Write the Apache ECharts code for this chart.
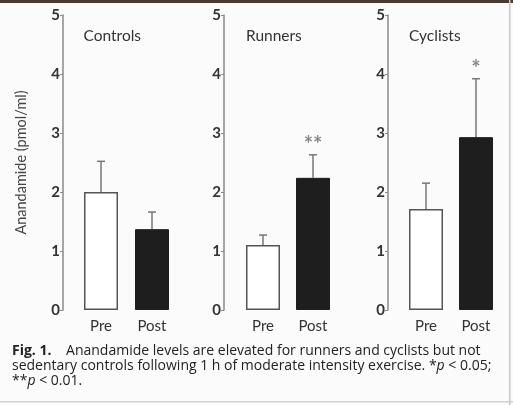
<!DOCTYPE html>
<html>
<head>
<meta charset="utf-8">
<script src="https://cdn.jsdelivr.net/npm/echarts@6/dist/echarts.min.js"></script>
<style>
  html, body { margin: 0; padding: 0; background: #fbfbfb; }
  #chart { width: 513px; height: 405px; }
</style>
</head>
<body>
<div id="chart"></div>
<script>
var groups = ["Controls", "Runners", "Cyclists"];
var phases = ["Pre", "Post"];
var preMeans = [2.0, 1.1, 1.71];
var postMeans = [1.37, 2.24, 2.93];
var preSem = [0.52, 0.17, 0.44];
var postSem = [0.29, 0.39, 0.99];
var marks = ["", "**", "*"];
var yTicks = [0, 1, 2, 3, 4, 5];

var FONT = "Lato";
var CAPTION_FONT = "Open Sans";
var chart = echarts.init(document.getElementById("chart"));

// panel placement: band start, band width, offset of y axis line to the left
var panels = [
	{ left: 75.5, width: 102, offset: 12.5 },
	{ left: 238, width: 100, offset: 14 },
	{ left: 401, width: 100, offset: 13 },
];

var grids = [];
var xAxes = [];
var yAxes = [];
var series = [];
var titles = [];

groups.forEach(function (g, i) {
	var p = panels[i];
	grids.push({ left: p.left, width: p.width, top: 15, bottom: 95 });
	xAxes.push({
		type: "category",
		gridIndex: i,
		data: phases,
		axisLine: { show: false },
		axisTick: { show: false },
		axisLabel: { margin: 9, color: "#333", fontSize: 15, fontFamily: FONT },
	});
	yAxes.push({
		type: "value",
		gridIndex: i,
		min: 0,
		max: 5,
		interval: 1,
		offset: p.offset,
		name: i === 0 ? "Anandamide (pmol/ml)" : "",
		nameLocation: "middle",
		nameGap: 47 - p.offset,
		nameTextStyle: { color: "#444", fontSize: 14.5, fontFamily: FONT },
		axisLine: { show: true, lineStyle: { color: "#8a8a8a", width: 1.5 } },
		axisTick: { show: true, inside: false, length: 3, lineStyle: { color: "#8a8a8a" } },
		axisLabel: {
			margin: 3,
			color: "#333",
			fontSize: 15,
			fontWeight: "bold",
			fontFamily: FONT,
			formatter: function (v) { return yTicks.indexOf(v) >= 0 ? String(v) : ""; },
		},
		splitLine: { show: false },
	});
	titles.push({
		text: g,
		left: p.left + 3,
		top: 23,
		textStyle: { color: "#333", fontSize: 15.5, fontWeight: "normal", fontFamily: FONT },
	});

	var means = [preMeans[i], postMeans[i]];
	var sems = [preSem[i], postSem[i]];

	series.push({
		type: "bar",
		xAxisIndex: i,
		yAxisIndex: i,
		barWidth: 34,
		data: [
			{ value: means[0], itemStyle: { color: "#ffffff", borderColor: "#555", borderWidth: 1.5 } },
			{ value: means[1], itemStyle: { color: "#1e1e1e", borderColor: "#1e1e1e", borderWidth: 1 } },
		],
		z: 2,
	});

	series.push({
		type: "custom",
		xAxisIndex: i,
		yAxisIndex: i,
		data: [
			[0, means[0], means[0] + sems[0], ""],
			[1, means[1], means[1] + sems[1], marks[i]],
		],
		renderItem: function (params, api) {
			var base = api.coord([api.value(0), api.value(1)]);
			var top = api.coord([api.value(0), api.value(2)]);
			var mark = api.value(3);
			var children = [
				{
					type: "line",
					shape: { x1: base[0], y1: base[1], x2: top[0], y2: top[1] },
					style: { stroke: "#777", lineWidth: 1.5 },
				},
				{
					type: "line",
					shape: { x1: top[0] - 4, y1: top[1], x2: top[0] + 4, y2: top[1] },
					style: { stroke: "#777", lineWidth: 1.5 },
				},
			];
			if (mark) {
				children.push({
					type: "text",
					style: {
						text: mark,
						x: top[0],
						y: top[1] + 1,
						align: "center",
						verticalAlign: "bottom",
						fill: "#888",
						font: "bold 22px " + FONT,
					},
				});
			}
			return { type: "group", children: children };
		},
		z: 1,
	});
});

var option = {
	backgroundColor: "#fbfbfb",
	animation: false,
	title: titles,
	grid: grids,
	xAxis: xAxes,
	yAxis: yAxes,
	series: series,
	graphic: [
		{ type: "rect", shape: { x: 0, y: 0, width: 513, height: 3 }, style: { fill: "#4a3a32" } },
		{ type: "rect", shape: { x: 509, y: 0, width: 1.5, height: 405 }, style: { fill: "#c8c8c8" } },
		{ type: "rect", shape: { x: 0, y: 401, width: 513, height: 1.5 }, style: { fill: "#d0d0d0" } },
		{
			type: "text",
			left: 12,
			top: 344,
			style: {
				text: "{b|Fig. 1.}    Anandamide levels are elevated for runners and cyclists but not\n" +
					"sedentary controls following 1 h of moderate intensity exercise. *{i|p} < 0.05;\n" +
					"**{i|p} < 0.01.",
				font: "14px " + CAPTION_FONT,
				fill: "#222",
				lineHeight: 15,
				rich: {
					b: { fontWeight: "bold", fontFamily: CAPTION_FONT, fontSize: 14, fill: "#222", lineHeight: 15 },
					i: { fontStyle: "italic", fontFamily: CAPTION_FONT, fontSize: 14, fill: "#222", lineHeight: 15 },
				},
			},
		},
	],
};

chart.setOption(option);
</script>
</body>
</html>
